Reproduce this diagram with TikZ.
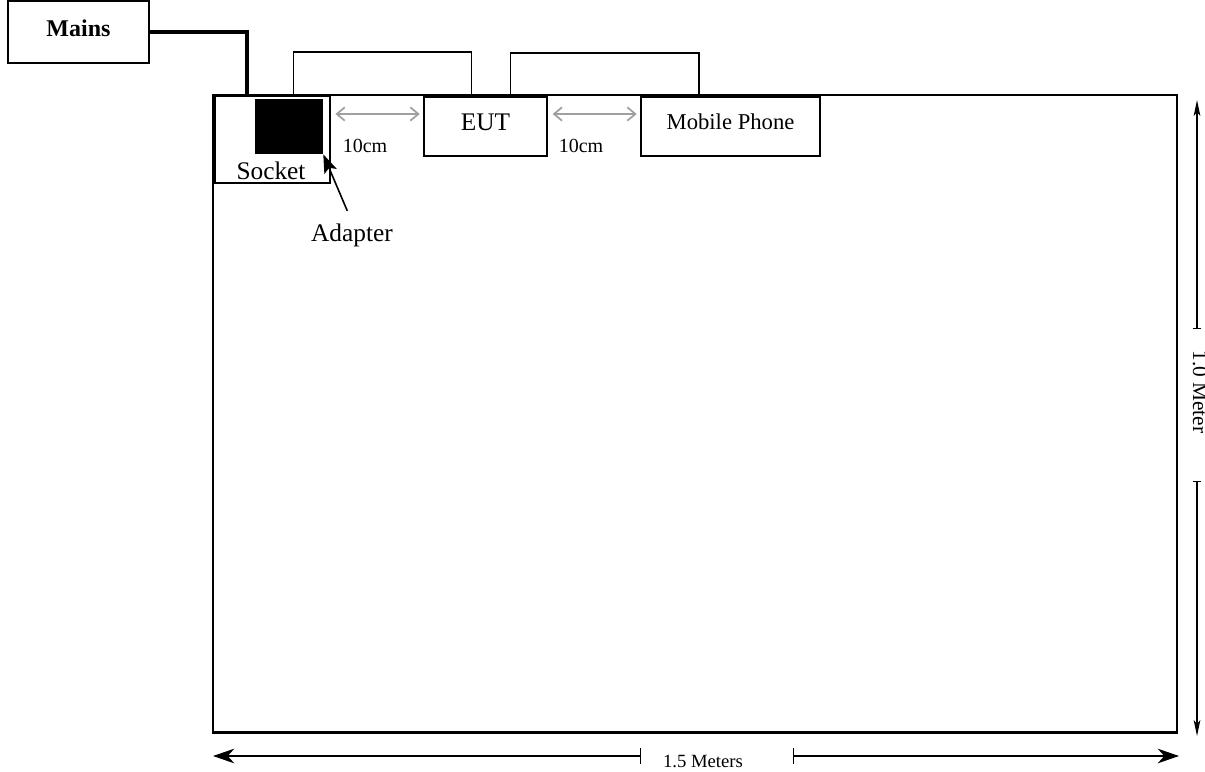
\documentclass[tikz,border=0pt]{standalone}
\usepackage{fontspec}
\setmainfont{Liberation Serif}
\usetikzlibrary{positioning,arrows.meta,calc}
\definecolor{gapcol}{RGB}{160,160,160}
\begin{document}
\begin{tikzpicture}[
  x=0.75pt,y=-0.75pt,
  tbl/.style={rectangle,draw=black,line width=2.2pt,inner sep=0pt},
  wbox/.style={rectangle,draw=black,fill=white,line width=1.4pt,inner sep=0pt},
  sbox/.style={rectangle,draw=black,fill=white,line width=1.1pt,inner sep=0pt},
  lbl/.style={inner sep=1pt,font=\fontsize{19}{22}\selectfont},
  mcable/.style={line width=2.8pt},
  cable/.style={line width=1.4pt},
  gap/.style={{Straight Barb[length=6pt,width=10pt]}-{Straight Barb[length=6pt,width=10pt]},
              line width=1.3pt,gapcol},
  ptr/.style={-{Stealth[length=14pt,width=10pt,inset=3pt]},line width=1.2pt},
  dim/.style={line width=1.1pt},
  >=Stealth
]
\useasboundingbox (0,0) rectangle (1205,771);
\node[tbl,minimum width=723pt,minimum height=477.8pt] (table) at (695,413.5) {};
\node[wbox,minimum width=105.8pt,minimum height=46.5pt,text depth=5pt,
  font=\fontsize{18}{20}\selectfont\bfseries] (mains) at (78.5,32) {Mains};
\node[sbox,minimum width=86.3pt,minimum height=65.3pt] (socket) at (272.5,139.5) {};
\node[rectangle,fill=black,minimum width=51pt,minimum height=41.3pt,inner sep=0pt]
  (adapter) at (289,126.5) {};
\node[lbl] (socketlbl) at (271,170.5) {Socket};
\node[lbl] (adaplbl) at (352,235) {Adapter};
\node[wbox,minimum width=92.3pt,minimum height=44.3pt,text depth=7pt,
  font=\fontsize{19}{22}\selectfont] (eut) at (485.5,126.5) {EUT};
\node[wbox,minimum width=134.3pt,minimum height=44.3pt,text depth=7pt,
  font=\fontsize{17}{20}\selectfont] (phone) at (730.5,126.5) {Mobile Phone};
\coordinate (plug) at (247,97);
\draw[mcable] (mains.east) -| (plug);
\draw[cable] ($(socket.north)+(21,0)$) -- ++(0,-43) -| ($(eut.north)+(-14,0)$);
\draw[cable] ($(eut.north)+(25,0)$) -- ++(0,-43) -| ($(phone.north)+(-31.5,0)$);
\draw[gap,shorten <=3.5pt,shorten >=2.5pt] ($(socket.east |- eut.west)+(0,-12.5)$)
  -- ($(eut.west)+(0,-12.5)$);
\draw[gap,shorten <=3.5pt,shorten >=2.5pt] ($(eut.east)+(0,-12.5)$)
  -- ($(phone.west)+(0,-12.5)$);
\node[lbl,font=\fontsize{15}{18}\selectfont] (gapA) at (365,145.5) {10cm};
\node[lbl,font=\fontsize{15}{18}\selectfont] (gapB) at (581,145.5) {10cm};
\draw[ptr,shorten <=9pt] (adaplbl.north) -- (adapter.south east);
\node[font=\fontsize{14}{17}\selectfont,inner sep=0pt] (hlen) at (703,761.5) {1.5 Meters};
\coordinate (hleft)  at (213,756);
\coordinate (htickL) at (641,756);
\coordinate (htickR) at (793,756);
\coordinate (hright) at (1179,756);
\draw[dim,{Stealth[length=16pt,width=11pt,inset=5pt]}-{Bar[width=12pt]}] (hleft) -- (htickL);
\draw[dim,{Bar[width=12pt]}-{Stealth[length=16pt,width=11pt,inset=5pt]}] (htickR) -- (hright);
\node[font=\fontsize{16}{19}\selectfont,inner sep=0pt,rotate=-90,anchor=base]
  (vlen) at (1193,392) {1.0 Meter};
\coordinate (vtop)   at (1197,100);
\coordinate (vtickT) at (1197,329);
\coordinate (vtickB) at (1197,481);
\coordinate (vbot)   at (1197,736);
\draw[dim,{Stealth[length=12pt,width=5pt,inset=3pt]}-{Bar[width=6pt]}] (vtop) -- (vtickT);
\draw[dim,{Bar[width=6pt]}-{Stealth[length=12pt,width=5pt,inset=3pt]}] (vtickB) -- (vbot);
\end{tikzpicture}
\end{document}
